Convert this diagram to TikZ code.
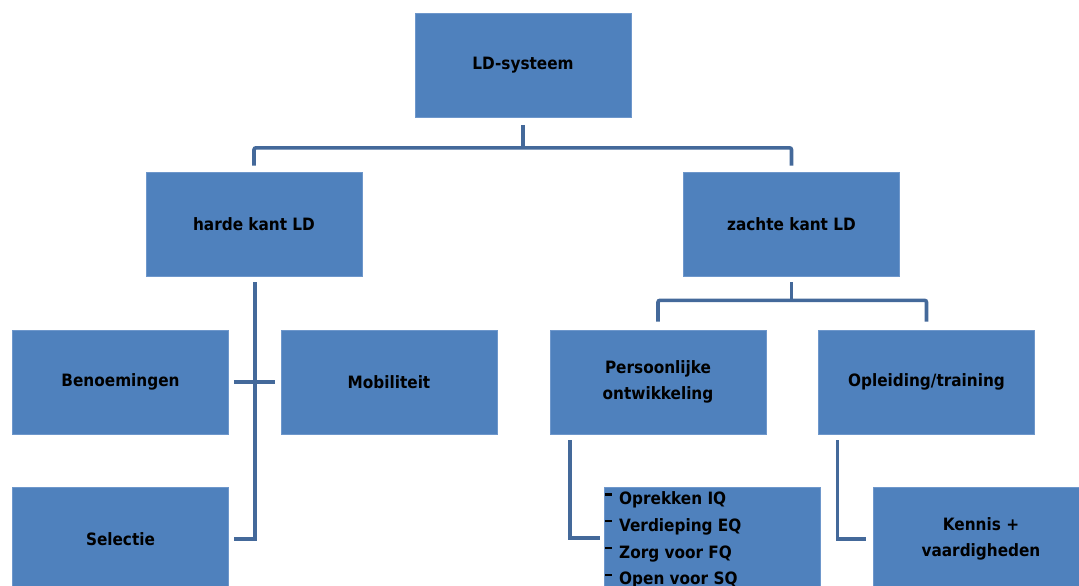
\documentclass[tikz,border=0pt]{standalone}
\usepackage{fontspec}
\setmainfont{DejaVu Sans Condensed}
\begin{document}
\begin{tikzpicture}[x=1pt,y=-1pt,
  box/.style={fill=boxblue,draw=boxedge,line width=0.6pt,minimum width=216pt,minimum height=104pt,
    inner sep=0pt,font=\bfseries\fontsize{17}{26.5}\selectfont,align=center,text=black},
  conn/.style={draw=linkblue,line width=3.6pt,rounded corners=2pt}]
\definecolor{boxblue}{HTML}{4F81BD}
\definecolor{boxedge}{HTML}{6E97CB}
\definecolor{linkblue}{HTML}{44699A}
\newcommand{\dashmark}{\raisebox{9pt}{\rule{7pt}{2.2pt}}\hspace{7pt}}
\useasboundingbox (0,0) rectangle (1079,586);
\begin{scope}
\clip (0,0) rectangle (1079,586);
\node[box] (ld) at (523,65.5) {LD-systeem};
\node[box] (hk) at (254,224) {harde kant LD};
\node[box] (zk) at (791.5,224) {zachte kant LD};
\node[box] (ben) at (120.5,382) {Benoemingen};
\node[box] (mob) at (389,382) {Mobiliteit};
\node[box] (po) at (658,382) {Persoonlijke\\ontwikkeling};
\node[box] (opl) at (926.5,382) {Opleiding/training};
\node[box] (sel) at (120.5,539) {Selectie};
\node[box,anchor=north west] (iq) at (604,487) {};
\node[box] (ken) at (981,539) {Kennis +\\vaardigheden};
\node[anchor=north west,inner sep=0pt,font=\bfseries\fontsize{17}{26.7}\selectfont,align=left] (iqt) at (605,491.5)
 {\dashmark Oprekken IQ\\\dashmark Verdieping EQ\\\dashmark Zorg voor FQ\\\dashmark Open voor SQ};
\end{scope}
% connectors
\coordinate (a1) at ([yshift=-7pt]ld.south);
\coordinate (a2) at ([yshift=-30pt]ld.south);
\coordinate (hl) at ([yshift=6pt]hk.north);
\coordinate (zr) at ([yshift=6pt]zk.north);
\draw[conn] (a1) -- (a2);
\draw[conn] (hl) |- (a2) -| (zr);
% harde kant
\coordinate (h1) at ([xshift=1pt,yshift=-6pt]hk.south);
\coordinate (h2) at ([xshift=1pt]hk.south |- sel.east);
\coordinate (se) at ([xshift=5pt]sel.east);
\coordinate (be) at ([xshift=5pt]ben.east);
\coordinate (me) at ([xshift=-6pt]mob.west);
\draw[conn,rounded corners=0pt] (h1) -- (h2) -- (se);
\draw[conn] (be) -- (me);
% zachte kant
\coordinate (z1) at ([yshift=-6pt]zk.south);
\coordinate (z2) at ([yshift=-24pt]zk.south);
\coordinate (pon) at ([yshift=8pt]po.north);
\coordinate (opn) at ([yshift=8pt]opl.north);
\draw[conn] (z1) -- (z2);
\draw[conn] (pon) |- (z2) -| (opn);
% persoonlijke ontwikkeling
\coordinate (p1) at ([xshift=-88pt,yshift=-6pt]po.south);
\coordinate (p2) at ([xshift=-4pt,yshift=-51pt]iq.north west);
\draw[conn,rounded corners=0pt] (p1) |- (p2);
% opleiding
\coordinate (o1) at ([xshift=-89pt,yshift=-6pt]opl.south);
\coordinate (o2) at ([xshift=-7pt]ken.west);
\draw[conn,rounded corners=0pt] (o1) |- (o2);
\end{tikzpicture}
\end{document}
